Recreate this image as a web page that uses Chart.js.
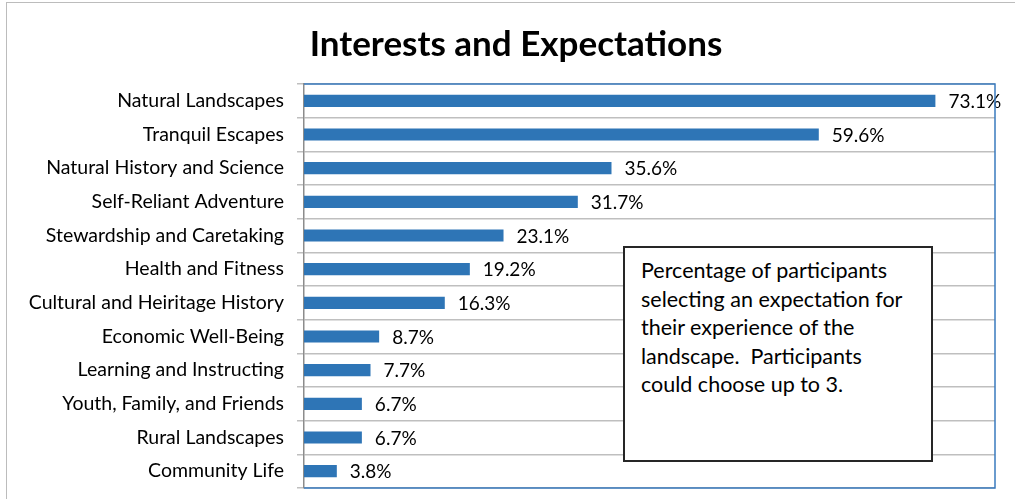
<!DOCTYPE html>
<html>
<head>
<meta charset="utf-8">
<title>Interests and Expectations</title>
<script src="https://cdn.jsdelivr.net/npm/chart.js@4"></script>
<style>
  html, body { margin: 0; padding: 0; background: #fff; width: 1015px; height: 499px; overflow: hidden; }
  #frame { position: absolute; left: 6px; top: 2px; width: 1018px; height: 530px;
           border-left: 1px solid #bcbcbc; border-top: 1px solid #bcbcbc; }
  #chart { position: absolute; left: 0; top: 0; }
  #note { position: absolute; left: 616px; top: 243px; width: 290px; height: 204px;
          border: 2px solid #262626; background: #fff; padding: 8px 0 0 16px; white-space: nowrap;
          font-family: Lato, "Noto Sans", sans-serif; font-size: 21.5px; line-height: 28.5px; color: #000; }
</style>
</head>
<body>
<div id="frame">
  <canvas id="chart" width="1018" height="496"></canvas>
  <div id="note">Percentage of participants<br>selecting an expectation for<br>their experience of the<br>landscape.&nbsp; Participants<br>could choose up to 3.</div>
</div>
<script>
const chartTitle = 'Interests and Expectations';

// Categories, top to bottom
const categories = [
  'Natural Landscapes',
  'Tranquil Escapes',
  'Natural History and Science',
  'Self-Reliant Adventure',
  'Stewardship and Caretaking',
  'Health and Fitness',
  'Cultural and Heiritage History',
  'Economic Well-Being',
  'Learning and Instructing',
  'Youth, Family, and Friends',
  'Rural Landscapes',
  'Community Life'
];

// Share of participants choosing each expectation (%)
const percentages = [73.1, 59.6, 35.6, 31.7, 23.1, 19.2, 16.3, 8.7, 7.7, 6.7, 6.7, 3.8];

// Text printed at the end of each bar
const valueLabels = percentages.map(v => v.toFixed(1) + '%');

const FONT = 'Lato, "Noto Sans", sans-serif';

// Title centred across the whole chart frame
const frameTitle = {
  id: 'frameTitle',
  afterDraw(chart) {
    const ctx = chart.ctx;
    ctx.save();
    ctx.font = 'bold 35px ' + FONT;
    ctx.fillStyle = '#000';
    ctx.textAlign = 'center';
    ctx.textBaseline = 'middle';
    ctx.fillText(chartTitle, chart.width / 2, 42);
    ctx.restore();
  }
};

// Prints the value label just to the right of every bar
const barValueLabels = {
  id: 'barValueLabels',
  afterDatasetsDraw(chart) {
    const ctx = chart.ctx;
    const meta = chart.getDatasetMeta(0);
    ctx.save();
    ctx.font = '19px ' + FONT;
    ctx.fillStyle = '#000';
    ctx.textAlign = 'left';
    ctx.textBaseline = 'middle';
    meta.data.forEach((bar, i) => {
      ctx.fillText(valueLabels[i], bar.x + 13, bar.y + 1);
    });
    ctx.restore();
  }
};

// Blue outline along the top, right and bottom of the plot area
const plotOutline = {
  id: 'plotOutline',
  afterDatasetsDraw(chart) {
    const { ctx, chartArea: a } = chart;
    ctx.save();
    ctx.strokeStyle = '#3a7bbf';
    ctx.lineWidth = 1.5;
    ctx.beginPath();
    ctx.moveTo(a.left, a.top);
    ctx.lineTo(a.right, a.top);
    ctx.lineTo(a.right, a.bottom);
    ctx.lineTo(a.left, a.bottom);
    ctx.stroke();
    ctx.restore();
  }
};

new Chart(document.getElementById('chart'), {
  type: 'bar',
  data: {
    labels: categories,
    datasets: [{
      data: percentages,
      backgroundColor: '#2e75b6',
      borderWidth: 0,
      barPercentage: 0.36,
      categoryPercentage: 1.0
    }]
  },
  options: {
    indexAxis: 'y',
    responsive: false,
    animation: false,
    layout: { padding: { left: 0, right: 30, top: 81, bottom: 11 } },
    plugins: {
      legend: { display: false },
      tooltip: { enabled: false },
      title: { display: false }
    },
    scales: {
      x: { display: false, min: 0, max: 80 },
      y: {
        offset: true,
        afterFit(scale) {
          scale.width = 297;
          scale.paddingTop = 0;
          scale.paddingBottom = 0;
        },
        grid: { color: '#bfbfbf', lineWidth: 1.5, offset: true, tickLength: 7 },
        border: { display: true, color: '#8c8c8c', width: 1.5 },
        ticks: { color: '#000', padding: 13, font: { family: FONT, size: 19.5 } }
      }
    }
  },
  plugins: [barValueLabels, plotOutline, frameTitle]
});
</script>
</body>
</html>
